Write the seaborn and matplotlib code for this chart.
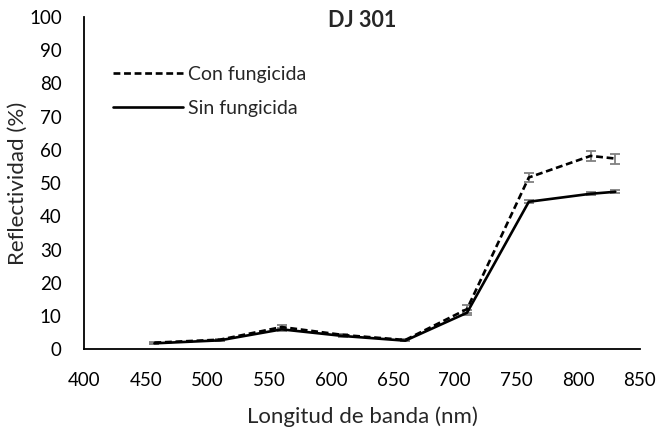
import matplotlib
matplotlib.use("Agg")
import matplotlib.pyplot as plt
import seaborn as sns
import pandas as pd

# Spectral bands (nm) and mean reflectance (%) for each treatment
bands = [457, 510, 560, 610, 660, 710, 760, 810, 830]
con_fungicida = [2.0, 2.9, 6.7, 4.3, 2.8, 12.1, 51.7, 58.2, 57.4]
sin_fungicida = [1.8, 2.7, 6.0, 4.0, 2.6, 11.0, 44.4, 46.8, 47.4]
con_err = [0.3, 0.3, 0.6, 0.3, 0.3, 1.1, 1.4, 1.6, 1.5]
sin_err = [0.2, 0.2, 0.4, 0.2, 0.2, 0.8, 0.5, 0.5, 0.5]
series_names = ["Con fungicida", "Sin fungicida"]
title = "DJ 301"
x_ticks = [400, 450, 500, 550, 600, 650, 700, 750, 800, 850]
y_ticks = [0, 10, 20, 30, 40, 50, 60, 70, 80, 90, 100]

sns.set_theme(style="white")
plt.rcParams["font.family"] = ["Lato", "DejaVu Sans"]

df = pd.DataFrame({
    "band": bands * 2,
    "refl": con_fungicida + sin_fungicida,
    "serie": [series_names[0]] * len(bands) + [series_names[1]] * len(bands),
})

W, H = 661, 438
x0, x1, y0, y1 = 84, 640, 349.3, 17
fig = plt.figure(figsize=(W / 100, H / 100), dpi=100)
ax = fig.add_axes([x0 / W, 1 - y0 / H, (x1 - x0) / W, (y0 - y1) / H])

# error bars underneath the lines
for vals, errs in [(con_fungicida, con_err), (sin_fungicida, sin_err)]:
    ax.errorbar(bands, vals, yerr=errs, fmt="none", ecolor="#808080",
                elinewidth=1.3, capsize=3.6, capthick=1.3, zorder=2)

sns.lineplot(data=df, x="band", y="refl", style="serie", hue="serie",
             palette={series_names[0]: "black", series_names[1]: "black"},
             dashes={series_names[0]: (2.6, 1.4), series_names[1]: ""},
             linewidth=1.9, ax=ax, zorder=3, legend=True)

ax.set_xlim(400, 850)
ax.set_ylim(0, 100)
ax.set_xticks(x_ticks)
ax.set_yticks(y_ticks)
ax.tick_params(axis="x", direction="in", length=5, width=1.2, labelsize=13.5, pad=16, colors="black")
ax.tick_params(axis="y", direction="in", length=5, width=1.2, labelsize=13.5, pad=16, colors="black")
for s in ["top", "right"]:
    ax.spines[s].set_visible(False)
for s in ["left", "bottom"]:
    ax.spines[s].set_color("black")
    ax.spines[s].set_linewidth(1.3)

ax.set_xlabel("Longitud de banda (nm)", fontsize=16)
ax.set_ylabel("Reflectividad (%)", fontsize=16)
ax.xaxis.label.set_va("center")
ax.yaxis.label.set_va("center")
ax.xaxis.set_label_coords(0.5, -(417 - y0) / (y0 - y1))
ax.yaxis.set_label_coords(-(x0 - 18) / (x1 - x0), 0.5)
ax.text(0.5, 0.988, title, transform=ax.transAxes, ha="center", va="center",
        fontsize=15.5, fontweight="bold")

leg = ax.legend(loc="upper left", bbox_to_anchor=((113 - x0) / (x1 - x0), (y0 - 66) / (y0 - y1)),
                frameon=False, fontsize=14, handlelength=3.6, handletextpad=0.27,
                labelspacing=0.86, borderaxespad=0, borderpad=0)

fig.savefig("out.png", dpi=100)
